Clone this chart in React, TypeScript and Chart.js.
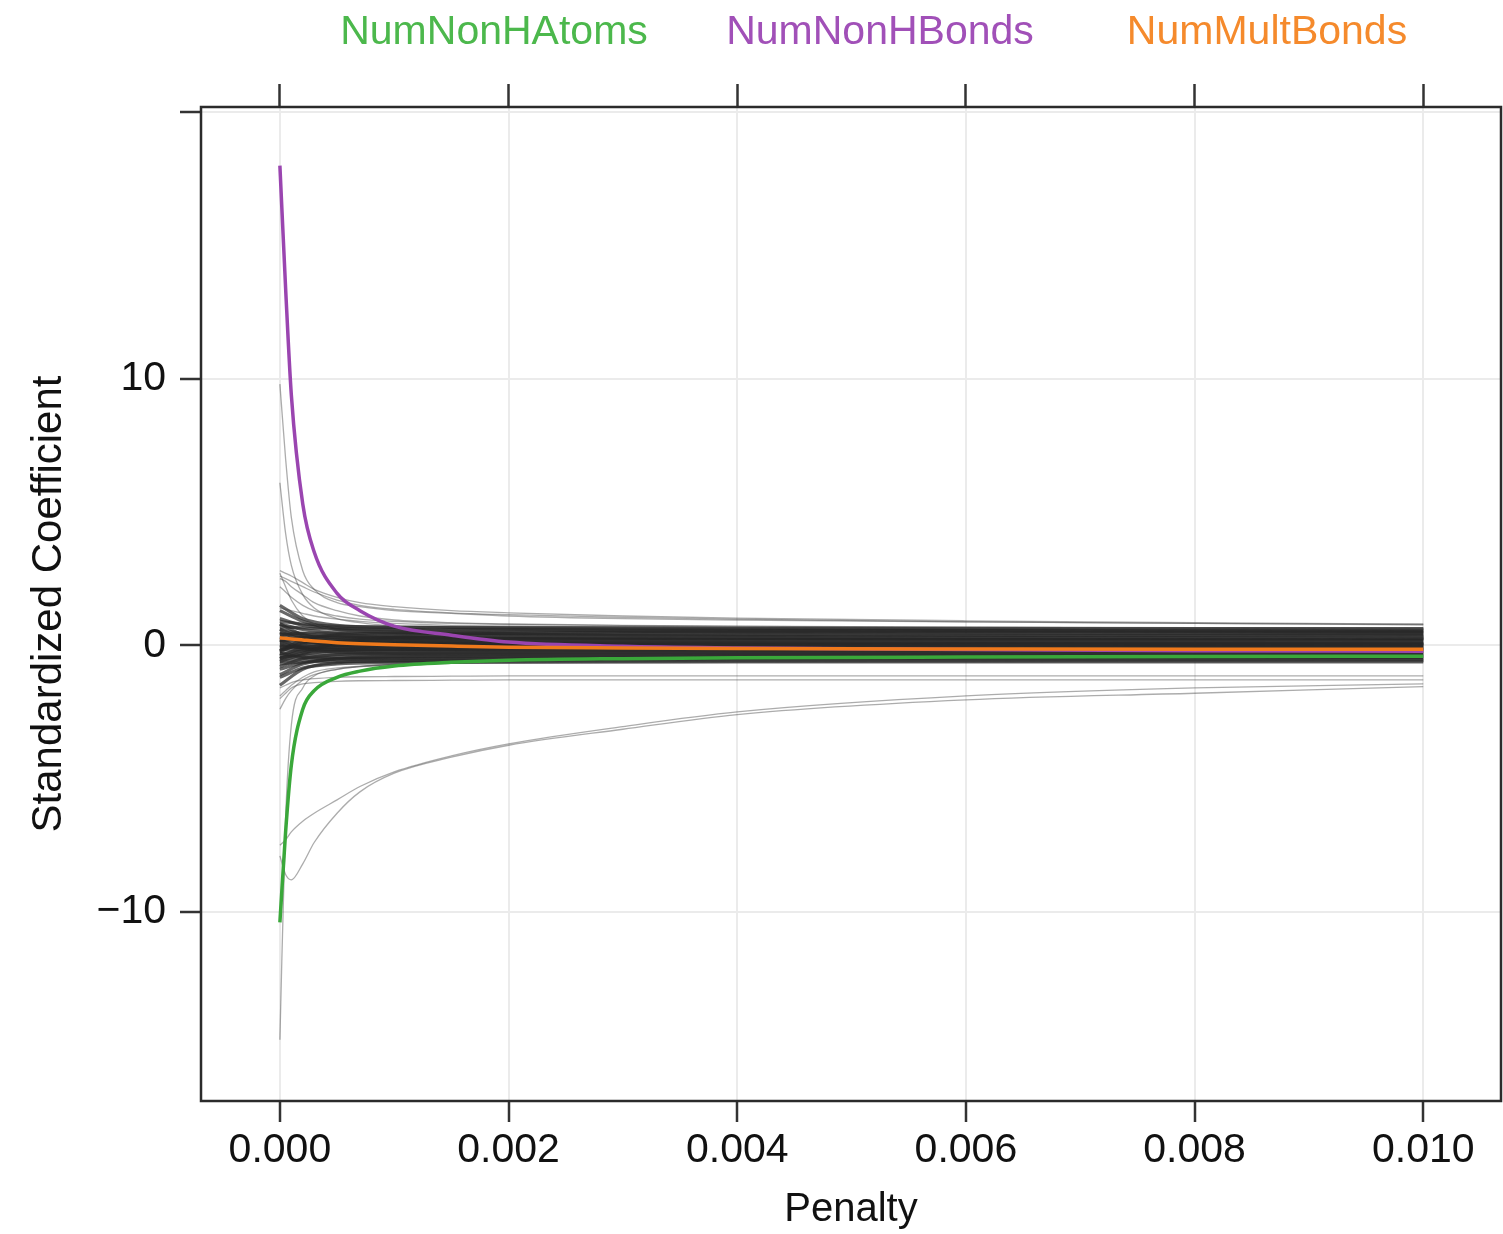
import React, { useEffect, useRef } from "react";
import { Chart, registerables } from "chart.js";

Chart.register(...registerables);

// Penalty grid used by the highlighted and outlying coefficient paths
const penalty = [0, 0.00005, 0.0001, 0.0002, 0.0003, 0.0005, 0.0007, 0.001, 0.0015, 0.002, 0.003, 0.004, 0.006, 0.008, 0.01];
// Coarser penalty grid used by the many paths forming the dense band near zero
const bandPenalty = [0, 0.0002, 0.0005, 0.001, 0.002, 0.004, 0.007, 0.01];

const numNonHAtoms = [-10.4, -7.0, -4.5, -2.4, -1.7, -1.2, -0.97, -0.78, -0.64, -0.56, -0.5, -0.47, -0.44, -0.42, -0.41];
const numNonHBonds = [18.0, 13.4, 9.4, 5.3, 3.5, 1.95, 1.3, 0.72, 0.38, 0.12, -0.04, -0.1, -0.16, -0.2, -0.22];
const numMultBonds = [0.28, 0.26, 0.24, 0.2, 0.16, 0.1, 0.06, 0.02, -0.03, -0.07, -0.1, -0.12, -0.14, -0.15, -0.15];

const outlierPaths = [
  [9.8, 7.0, 4.8, 2.8, 2.1, 1.6, 1.45, 1.3, 1.2, 1.1, 1.0, 0.95, 0.88, 0.82, 0.78],
  [6.1, 4.2, 3.0, 1.9, 1.4, 1.0, 0.85, 0.72, 0.6, 0.52, 0.45, 0.42, 0.38, 0.36, 0.34],
  [2.8, 2.7, 2.6, 2.35, 2.1, 1.8, 1.6, 1.45, 1.3, 1.22, 1.1, 1.02, 0.92, 0.85, 0.8],
  [2.6, 2.5, 2.4, 2.2, 2.0, 1.7, 1.5, 1.35, 1.22, 1.15, 1.05, 0.98, 0.88, 0.82, 0.77],
  [2.5, 2.4, 2.2, 1.9, 1.6, 1.3, 1.1, 0.95, 0.85, 0.8, 0.75, 0.72, 0.68, 0.66, 0.64],
  [2.2, 2.0, 1.8, 1.5, 1.3, 1.1, 0.98, 0.9, 0.82, 0.78, 0.74, 0.71, 0.68, 0.66, 0.64],
  [2.7, 2.2, 1.7, 1.1, 0.8, 0.55, 0.45, 0.4, 0.36, 0.34, 0.32, 0.31, 0.3, 0.29, 0.28],
  [1.4, 1.35, 1.3, 1.2, 1.1, 0.98, 0.9, 0.82, 0.75, 0.72, 0.68, 0.66, 0.64, 0.62, 0.6],
  [-14.8, -6.5, -3.0, -1.6, -1.15, -0.9, -0.8, -0.72, -0.66, -0.63, -0.6, -0.58, -0.56, -0.55, -0.54],
  [-7.5, -7.3, -7.0, -6.6, -6.3, -5.8, -5.3, -4.75, -4.15, -3.7, -3.05, -2.5, -1.9, -1.6, -1.45],
  [-7.9, -8.6, -8.8, -8.2, -7.4, -6.3, -5.5, -4.8, -4.2, -3.75, -3.15, -2.6, -2.05, -1.8, -1.55],
  [-2.0, -1.8, -1.6, -1.45, -1.4, -1.35, -1.33, -1.32, -1.31, -1.3, -1.3, -1.3, -1.3, -1.3, -1.3],
  [-1.6, -1.5, -1.4, -1.3, -1.25, -1.2, -1.18, -1.17, -1.16, -1.15, -1.15, -1.15, -1.15, -1.15, -1.15],
  [-2.4, -2.0, -1.7, -1.3, -1.1, -0.9, -0.8, -0.72, -0.68, -0.66, -0.64, -0.63, -0.62, -0.61, -0.6],
  [-1.9, -1.7, -1.5, -1.2, -1.0, -0.85, -0.78, -0.72, -0.68, -0.66, -0.65, -0.64, -0.63, -0.62, -0.62],
];

const bandPaths = [
  [0.9, 0.8, 0.72, 0.68, 0.66, 0.64, 0.62, 0.6],
  [0.7, 0.65, 0.6, 0.58, 0.56, 0.55, 0.54, 0.52],
  [-0.5, -0.3, 0.1, 0.3, 0.45, 0.5, 0.5, 0.48],
  [0.4, 0.45, 0.47, 0.46, 0.45, 0.44, 0.43, 0.42],
  [1.3, 0.9, 0.6, 0.5, 0.42, 0.4, 0.38, 0.37],
  [0.2, 0.3, 0.35, 0.36, 0.35, 0.34, 0.33, 0.32],
  [0.6, 0.45, 0.35, 0.3, 0.29, 0.28, 0.27, 0.26],
  [-0.2, 0.05, 0.15, 0.2, 0.22, 0.23, 0.22, 0.21],
  [0.1, 0.12, 0.15, 0.17, 0.18, 0.17, 0.16, 0.16],
  [0.8, 0.4, 0.2, 0.15, 0.13, 0.12, 0.11, 0.1],
  [-0.4, -0.1, 0.02, 0.06, 0.08, 0.08, 0.07, 0.06],
  [0.3, 0.15, 0.05, 0.03, 0.02, 0.02, 0.01, 0.01],
  [-0.1, -0.05, -0.03, -0.03, -0.04, -0.04, -0.04, -0.04],
  [0.5, 0.2, 0.0, -0.05, -0.08, -0.09, -0.09, -0.09],
  [-0.6, -0.35, -0.2, -0.15, -0.13, -0.13, -0.13, -0.13],
  [0.05, -0.1, -0.15, -0.18, -0.19, -0.19, -0.18, -0.18],
  [-0.3, -0.25, -0.23, -0.22, -0.22, -0.22, -0.22, -0.22],
  [-0.8, -0.5, -0.35, -0.3, -0.28, -0.27, -0.26, -0.26],
  [0.2, -0.1, -0.25, -0.3, -0.31, -0.31, -0.3, -0.3],
  [-0.45, -0.38, -0.35, -0.34, -0.34, -0.34, -0.34, -0.34],
  [-1.1, -0.7, -0.5, -0.42, -0.4, -0.39, -0.38, -0.38],
  [-0.6, -0.5, -0.45, -0.44, -0.43, -0.43, -0.42, -0.42],
  [-0.9, -0.65, -0.52, -0.48, -0.47, -0.46, -0.46, -0.46],
  [-0.3, -0.45, -0.5, -0.51, -0.51, -0.5, -0.5, -0.5],
  [-1.5, -0.9, -0.65, -0.58, -0.56, -0.55, -0.55, -0.54],
  [-0.7, -0.62, -0.6, -0.59, -0.59, -0.58, -0.58, -0.58],
  [-1.2, -0.85, -0.7, -0.65, -0.63, -0.62, -0.62, -0.62],
  [1.0, 0.75, 0.65, 0.6, 0.58, 0.57, 0.56, 0.55],
  [-0.2, 0.2, 0.4, 0.47, 0.5, 0.51, 0.5, 0.49],
  [0.15, 0.25, 0.28, 0.29, 0.29, 0.28, 0.28, 0.27],
  [0.6, 0.3, 0.12, 0.07, 0.05, 0.04, 0.04, 0.03],
  [-0.05, 0.0, 0.03, 0.04, 0.04, 0.04, 0.04, 0.04],
  [0.35, 0.2, 0.12, 0.1, 0.09, 0.09, 0.08, 0.08],
  [-0.5, -0.2, -0.08, -0.03, -0.01, 0.0, 0.0, 0.0],
  [0.8, 0.6, 0.45, 0.4, 0.38, 0.37, 0.36, 0.36],
  [0.0, -0.08, -0.1, -0.11, -0.11, -0.11, -0.11, -0.11],
  [1.5, 1.0, 0.75, 0.68, 0.65, 0.64, 0.63, 0.63],
  [-0.25, 0.1, 0.22, 0.25, 0.25, 0.24, 0.24, 0.23],
  [0.45, 0.35, 0.3, 0.28, 0.26, 0.25, 0.24, 0.24],
  [-0.15, -0.16, -0.16, -0.16, -0.16, -0.16, -0.15, -0.15],
];

const xTicks = [0, 0.002, 0.004, 0.006, 0.008, 0.01];
const yTicks = [-10, 0, 10, 20];
const keyLabels = ["NumNonHAtoms", "NumNonHBonds", "NumMultBonds"];
const keyColors = ["#4cb84c", "#a150b8", "#f58a2c"];
const lineColors = { atoms: "#3aa83a", bonds: "#9a45b0", mult: "#f07a1c" };

const FONT = '"Liberation Sans", Arial, Helvetica, sans-serif';
const TEXT = "#111111";

function toPoints(xs: number[], ys: number[]) {
  return ys.map((y, i) => ({ x: xs[i], y }));
}

export default function App() {
  const ref = useRef<HTMLCanvasElement>(null);

  useEffect(() => {
    const canvas = ref.current;
    if (!canvas) return;

    const grayDs = (ys: number[], xs: number[], color: string, width: number) => ({
      data: toPoints(xs, ys),
      borderColor: color,
      borderWidth: width,
      pointRadius: 0,
      showLine: true,
      fill: false,
      cubicInterpolationMode: "monotone",
      order: 2,
    });
    const colorDs = (ys: number[], color: string, order: number) => ({
      data: toPoints(penalty, ys),
      borderColor: color,
      borderWidth: 3.5,
      pointRadius: 0,
      showLine: true,
      fill: false,
      cubicInterpolationMode: "monotone",
      order,
    });

    const datasets: any[] = [
      colorDs(numMultBonds, lineColors.mult, 0),
      colorDs(numNonHAtoms, lineColors.atoms, 0.5),
      colorDs(numNonHBonds, lineColors.bonds, 1),
      ...outlierPaths.map((p) => grayDs(p, penalty, "rgba(70,70,70,0.45)", 1.3)),
      ...bandPaths.map((p) => grayDs(p, bandPenalty, "rgba(40,40,40,0.7)", 3.2)),
    ];

    const decorPlugin = {
      id: "decor",
      afterDraw(chart: any) {
        const { ctx, chartArea } = chart;
        ctx.save();
        ctx.strokeStyle = "#2b2b2b";
        ctx.lineWidth = 2.5;
        ctx.strokeRect(chartArea.left, chartArea.top, chartArea.right - chartArea.left, chartArea.bottom - chartArea.top);
        ctx.font = `41px ${FONT}`;
        ctx.textAlign = "center";
        ctx.textBaseline = "middle";
        const centers = [494, 880, 1267];
        keyLabels.forEach((t, i) => {
          ctx.fillStyle = keyColors[i];
          ctx.fillText(t, centers[i], 33);
        });
        ctx.restore();
      },
    };

    const tickFont = { family: FONT, size: 41 };

    const chart = new Chart(canvas, {
      type: "scatter",
      data: { datasets },
      options: {
        responsive: false,
        animation: false,
        events: [],
        layout: { padding: { left: 0, right: 2, top: 0, bottom: 0 } },
        plugins: { legend: { display: false }, tooltip: { enabled: false } },
        scales: {
          x: {
            type: "linear",
            position: "bottom",
            min: -0.00069,
            max: 0.01068,
            afterBuildTicks: (s: any) => {
              s.ticks = xTicks.map((v) => ({ value: v }));
            },
            afterFit: (s: any) => {
              s.height = 133;
            },
            ticks: {
              callback: (v: any) => Number(v).toFixed(3),
              font: tickFont,
              color: TEXT,
              padding: 4,
              maxRotation: 0,
              autoSkip: false,
            },
            grid: { color: "#ebebeb", lineWidth: 2, tickLength: 21, tickColor: "#333", tickWidth: 2.5 },
            border: { display: false },
            title: { display: true, text: "Penalty", font: { family: FONT, size: 40 }, color: TEXT, padding: { top: 0, bottom: 0 } },
          },
          x2: {
            type: "linear",
            axis: "x",
            position: "top",
            min: -0.00069,
            max: 0.01068,
            afterBuildTicks: (s: any) => {
              s.ticks = xTicks.map((v) => ({ value: v }));
            },
            afterFit: (s: any) => {
              s.height = 107;
            },
            ticks: { callback: () => "", font: tickFont, padding: 0 },
            grid: { drawOnChartArea: false, tickLength: 23, tickColor: "#333", tickWidth: 2.5 },
            border: { display: false },
          },
          y: {
            type: "linear",
            position: "left",
            min: -17.1,
            max: 20.2,
            afterBuildTicks: (s: any) => {
              s.ticks = yTicks.map((v) => ({ value: v }));
            },
            afterFit: (s: any) => {
              s.width = 201;
            },
            ticks: {
              callback: (v: any) => (v === 20 ? "" : v < 0 ? "\u2212" + Math.abs(v) : String(v)),
              font: tickFont,
              color: TEXT,
              padding: 14,
            },
            grid: { color: "#ebebeb", lineWidth: 2, tickLength: 21, tickColor: "#333", tickWidth: 2.5 },
            border: { display: false },
            title: {
              display: true,
              text: "Standardized Coefficient",
              font: { family: FONT, size: 42 },
              color: TEXT,
              padding: { top: 24, bottom: 0 },
            },
          },
        },
      } as any,
      plugins: [decorPlugin],
    });

    return () => chart.destroy();
  }, []);

  return (
    <div style={{ position: "absolute", left: 0, top: 0, width: 1503, height: 1234, background: "#fff" }}>
      <canvas ref={ref} width={1503} height={1234} style={{ display: "block" }} />
    </div>
  );
}
